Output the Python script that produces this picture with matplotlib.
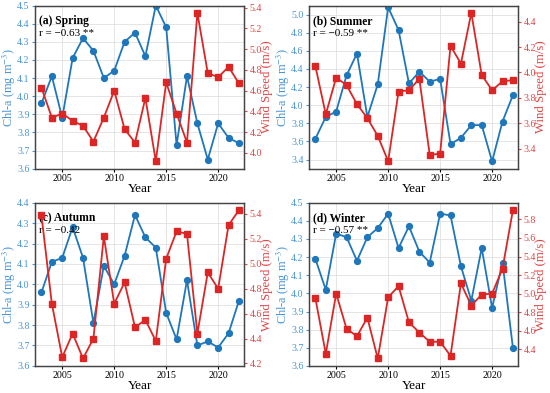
import numpy as np
import matplotlib
matplotlib.use('Agg')
import matplotlib.pyplot as plt
from matplotlib.ticker import MultipleLocator

plt.rcParams['font.family'] = ['Liberation Serif', 'DejaVu Serif']
plt.rcParams['mathtext.fontset'] = 'stix'

# ── data ─────────────────────────────────────────────
years = np.arange(2003, 2023)

spring_chl = [3.96, 4.11, 3.88, 4.21, 4.32, 4.25, 4.10, 4.14, 4.30, 4.35,
              4.22, 4.50, 4.38, 3.73, 4.11, 3.85, 3.65, 3.85, 3.77, 3.74]
spring_ws = [4.63, 4.34, 4.38, 4.31, 4.26, 4.11, 4.34, 4.60, 4.23, 4.10,
             4.53, 3.92, 4.68, 4.38, 4.10, 5.35, 4.77, 4.73, 4.83, 4.67]

summer_chl = [3.63, 3.87, 3.93, 4.33, 4.57, 3.87, 4.23, 5.08, 4.83, 4.24,
              4.37, 4.26, 4.29, 3.57, 3.64, 3.78, 3.78, 3.38, 3.82, 4.11]
summer_ws = [4.05, 3.67, 3.96, 3.90, 3.75, 3.64, 3.50, 3.30, 3.85, 3.86,
             3.95, 3.35, 3.36, 4.21, 4.07, 4.47, 3.98, 3.86, 3.93, 3.94]

autumn_chl = [3.96, 4.11, 4.13, 4.28, 4.13, 3.81, 4.09, 4.00, 4.14, 4.34,
              4.23, 4.18, 3.86, 3.73, 4.02, 3.70, 3.72, 3.69, 3.76, 3.92]
autumn_ws = [5.39, 4.68, 4.25, 4.44, 4.24, 4.40, 5.22, 4.68, 4.85, 4.49,
             4.55, 4.38, 5.04, 5.26, 5.24, 4.44, 4.93, 4.80, 5.31, 5.43]

winter_chl = [4.19, 4.02, 4.33, 4.31, 4.18, 4.31, 4.36, 4.44, 4.25, 4.37,
              4.23, 4.17, 4.44, 4.43, 4.15, 3.96, 4.25, 3.92, 4.17, 3.70]
winter_ws = [4.95, 4.35, 5.00, 4.62, 4.54, 4.74, 4.30, 4.96, 5.08, 4.69,
             4.58, 4.48, 4.48, 4.33, 5.11, 4.87, 4.99, 5.00, 5.27, 5.90]

titles = ['(a) Spring', '(b) Summer', '(c) Autumn', '(d) Winter']
r_texts = ['r = \u22120.63 **', 'r = \u22120.59 **', 'r = \u22120.42', 'r = \u22120.57 **']
chl_lims = [(3.6, 4.5), (3.3, 5.1), (3.6, 4.4), (3.6, 4.5)]
chl_steps = [0.1, 0.2, 0.1, 0.1]

chl_all = [spring_chl, summer_chl, autumn_chl, winter_chl]
ws_all = [spring_ws, summer_ws, autumn_ws, winter_ws]

blue = '#1f77bb'
red = '#dc2626'
blue_txt = '#4a95d6'
red_txt = '#e04545'

# ── figure ───────────────────────────────────────────
fig, axes = plt.subplots(2, 2, figsize=(5.5, 3.93), dpi=100)
plt.subplots_adjust(left=0.064, right=0.942, top=0.986, bottom=0.069,
                    wspace=0.311, hspace=0.209)

for i, ax in enumerate(axes.flat):
    ax.grid(color='#e0e0e0', linewidth=0.6)
    ax.set_axisbelow(True)
    ax.plot(years, chl_all[i], color=blue, marker='o', markersize=4.2,
            linewidth=1.3)
    ax.set_ylim(*chl_lims[i])
    ax.yaxis.set_major_locator(MultipleLocator(chl_steps[i]))
    ax.set_xlim(2002.4, 2022.5)
    ax.set_xticks([2005, 2010, 2015, 2020])
    ax.set_xlabel('Year', fontsize=9.5, labelpad=0)
    ax.set_ylabel('Chl-a (mg m$^{-3}$)', color=blue_txt, fontsize=8.8)
    ax.yaxis.set_label_coords(-0.083, 0.5)
    ax.tick_params(axis='y', colors=blue_txt, labelsize=7.2, length=2.5,
                   pad=1.5)
    ax.tick_params(axis='x', labelsize=7.2, length=2.5, pad=1.5)
    ax.text(0.02, 0.905, titles[i], transform=ax.transAxes, fontsize=8.4,
            fontweight='bold', va='center')
    ax.text(0.02, 0.83, r_texts[i], transform=ax.transAxes, fontsize=8,
            va='center')

    ax2 = ax.twinx()
    ax2.plot(years, ws_all[i], color=red, marker='s', markersize=4.2,
             linewidth=1.3)
    ax2.yaxis.set_major_locator(MultipleLocator(0.2))
    ax2.set_ylabel('Wind Speed (m/s)', color=red_txt, fontsize=9.2)
    ax2.yaxis.set_label_coords(1.082, 0.5)
    ax2.tick_params(axis='y', colors=red_txt, labelsize=7.2, length=2.5,
                    pad=1.5)
    for a in (ax, ax2):
        for s in a.spines.values():
            s.set_color('#444444')
            s.set_linewidth(0.9)

plt.savefig('out.png', dpi=100)
